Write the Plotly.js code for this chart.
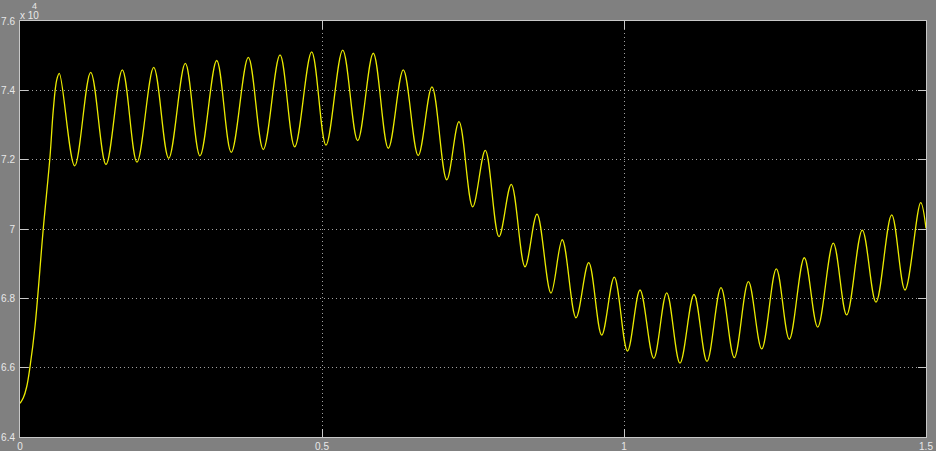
<!DOCTYPE html>
<html>
<head>
<meta charset="utf-8">
<script src="https://cdn.plot.ly/plotly-3.0.1.min.js"></script>
<style>html,body{margin:0;padding:0;background:#808080;}#chart{width:936px;height:451px;}</style>
</head>
<body>
<div id="chart"></div>
<script>
const timeS = [0, 0.0055, 0.0111, 0.0166, 0.0248, 0.0386, 0.0497, 0.0551, 0.0608,
  0.0651, 0.0906, 0.1171, 0.1424, 0.1694, 0.1937, 0.2214, 0.2462, 0.2737, 0.2980,
  0.3257, 0.3498, 0.3780, 0.4028, 0.4305, 0.4548, 0.4829, 0.5066, 0.5343, 0.5591,
  0.5849, 0.6098, 0.6346, 0.6593, 0.6821, 0.7065, 0.7268, 0.7495, 0.7704, 0.7930,
  0.8134, 0.8361, 0.8560, 0.8791, 0.8978, 0.9205, 0.9416, 0.9631, 0.9839, 1.0058,
  1.0265, 1.0492, 1.0707, 1.0927, 1.1159, 1.1374, 1.1606, 1.1826, 1.2060, 1.2280,
  1.2522, 1.2737, 1.2985, 1.3207, 1.3465, 1.3687, 1.3945, 1.4172, 1.4432, 1.4652,
  1.4912, 1.5];
// Signal values
const signalVals = [64970, 65130, 65450, 66030, 67180, 70020, 72090, 73430, 74300,
  74490, 71820, 74520, 71860, 74590, 71930, 74660, 72040, 74780, 72110,
  74860, 72210, 74950, 72290, 75020, 72370, 75110, 72420, 75160, 72550,
  75070, 72330, 74590, 72120, 74100, 71420, 73100, 70640, 72270, 69780,
  71290, 68910, 70430, 68150, 69690, 67440, 69030, 66940, 68610, 66480,
  68240, 66270, 68160, 66130, 68110, 66180, 68310, 66290, 68480, 66540,
  68850, 66820, 69170, 67170, 69590, 67520, 69970, 67890, 70410, 68240,
  70760, 70020];
const xTickVals = [0, 0.5, 1, 1.5];
const xTickText = ['0', '0.5', '1', '1.5'];
const yTickVals = [64000, 66000, 68000, 70000, 72000, 74000, 76000];
const yTickText = ['6.4', '6.6', '6.8', '7', '7.2', '7.4', '7.6'];
const exponentBase = 'x 10';
const exponentPower = '4';

const fontFam = 'Liberation Sans, Arial, sans-serif';
const tickFont = {family: fontFam, size: 10, color: '#e8e8e8'};

const trace = {
  x: timeS, y: signalVals, type: 'scatter', mode: 'lines',
  line: {color: 'rgb(235,235,0)', width: 1.3, shape: 'spline', smoothing: 1},
  hoverinfo: 'skip'
};

const axisCommon = {
  showline: true, linecolor: '#c8c8c8', linewidth: 1, mirror: 'allticks',
  ticks: 'inside', ticklen: 8, tickcolor: '#c8c8c8', tickwidth: 1,
  showgrid: true, gridcolor: '#a0a0a0', griddash: '1px,3px', gridwidth: 1,
  zeroline: false, tickfont: tickFont, fixedrange: true
};

const layout = {
  width: 936, height: 451,
  margin: {l: 20, r: 10, t: 21, b: 14, pad: 0},
  paper_bgcolor: '#808080', plot_bgcolor: '#000000',
  showlegend: false,
  xaxis: Object.assign({}, axisCommon, {
    range: [0, 1.5], tickmode: 'array', tickvals: xTickVals, ticktext: xTickText,
    ticklabelstandoff: 0
  }),
  yaxis: Object.assign({}, axisCommon, {
    range: [64000, 76000], tickmode: 'array', tickvals: yTickVals, ticktext: yTickText,
    ticklabelstandoff: 2
  }),
  annotations: [{
    text: exponentBase, xref: 'paper', yref: 'paper', x: 0, y: 1,
    xanchor: 'left', yanchor: 'bottom', showarrow: false,
    font: {family: fontFam, size: 10, color: '#e8e8e8'},
    xshift: -2, yshift: -2
  }, {
    text: exponentPower, xref: 'paper', yref: 'paper', x: 0, y: 1,
    xanchor: 'left', yanchor: 'bottom', showarrow: false,
    font: {family: fontFam, size: 9, color: '#e8e8e8'},
    xshift: 10, yshift: 8
  }]
};

Plotly.newPlot('chart', [trace], layout, {displayModeBar: false, staticPlot: true});
</script>
</body>
</html>
